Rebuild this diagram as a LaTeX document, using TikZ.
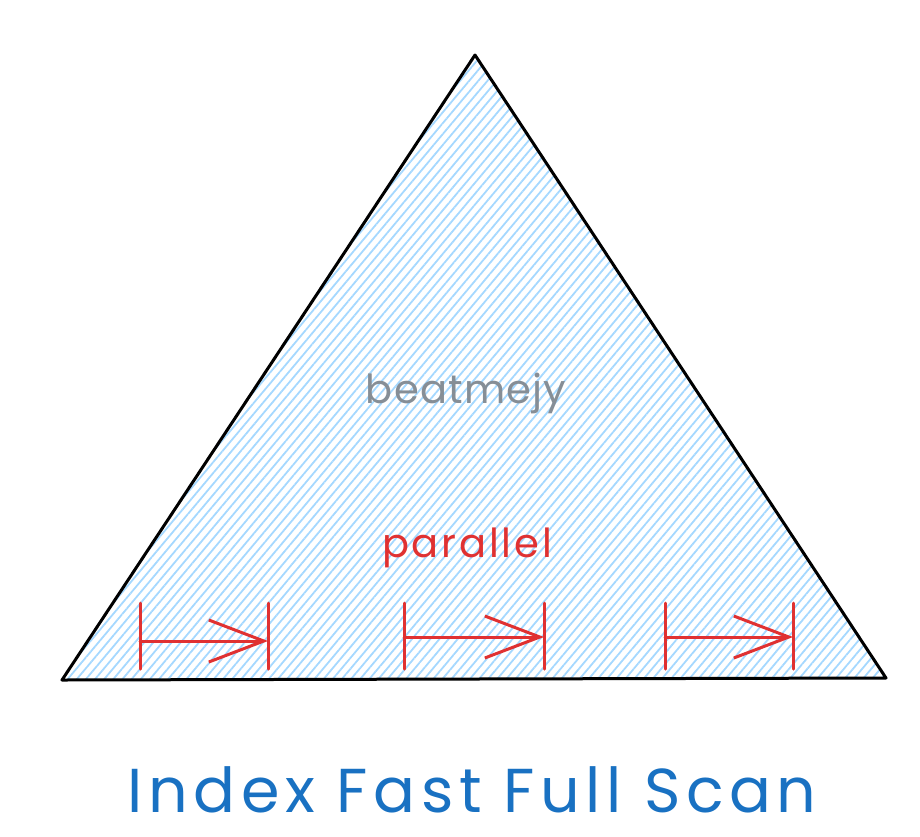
\documentclass[tikz,border=0pt]{standalone}
\usepackage{fontspec}
\setmainfont{Poppins}
\usetikzlibrary{patterns.meta, arrows.meta}
\definecolor{hatch}{HTML}{A5D8FF}
\definecolor{inkred}{HTML}{E03131}
\definecolor{inkgray}{HTML}{868E96}
\definecolor{inkblue}{HTML}{1971C2}

\begin{document}
\begin{tikzpicture}[x=1pt, y=-1pt,
  edge/.style={line width=3pt, line join=round},
  barline/.style={inkred, line width=3pt, line cap=round},
  scanarrow/.style={inkred, line width=3pt, line cap=round,
    -{Straight Barb[length=55pt, width=42pt, line width=3pt]}}]
\useasboundingbox (0, 0) rectangle (920, 836);
\coordinate (apex) at (475, 55);
\coordinate (left) at (62, 680);
\coordinate (right) at (886, 678);
\fill [pattern={Lines[angle=50, distance=7pt, line width=1.8pt]}, pattern color=hatch]
  (left) -- (apex) -- (right) -- cycle;
\draw [edge] (left) -- (apex) -- (right) -- cycle;
\node [inkgray, font=\fontsize{40}{40}\selectfont\addfontfeature{LetterSpace=3}] (brand) at (466, 393) {beatmejy};
\node [inkred, font=\fontsize{40}{40}\selectfont\addfontfeature{LetterSpace=7}] (par) at (467, 548) {parallel};
% one scan range per worker
\foreach \a/\b/\y in {140/268/641, 404/544/637, 665/793/637} {
  \coordinate (s\a) at (\a, \y);
  \coordinate (e\a) at (\b, \y);
  \draw [barline] (\a, 603) -- (\a, 669);
  \draw [barline] (\b, 603) -- (\b, 669);
  \draw [scanarrow] (s\a) -- (e\a);
}
\node [inkblue, font=\fontsize{62}{62}\selectfont\addfontfeature{LetterSpace=9}] (title) at (472, 790) {Index Fast Full Scan};
\end{tikzpicture}
\end{document}
